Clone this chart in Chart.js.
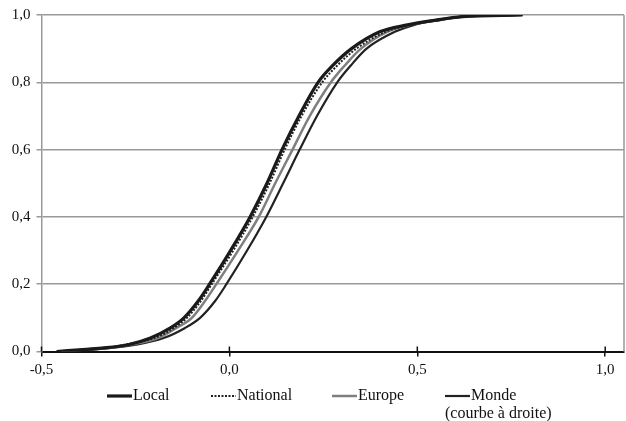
<!DOCTYPE html>
<html>
<head>
<meta charset="utf-8">
<script src="https://cdn.jsdelivr.net/npm/chart.js@4.4.1/dist/chart.umd.min.js"></script>
<style>
  html, body { margin: 0; padding: 0; background: #fff; }
</style>
</head>
<body>
<canvas id="chart_cdf" width="626" height="421"></canvas>
<script>
// cumulative share (y) and the x value reached by each curve
const probs    = [0, 0.005, 0.01, 0.02, 0.04, 0.07, 0.1, 0.15, 0.2, 0.3, 0.4, 0.5, 0.6, 0.7, 0.8, 0.85, 0.9, 0.95, 0.97, 0.985, 0.995, 1.0];
const local    = [-0.46, -0.40, -0.34, -0.27, -0.21, -0.157, -0.121, -0.083, -0.053, 0.003, 0.055, 0.10, 0.14, 0.185, 0.236, 0.275, 0.325, 0.40, 0.47, 0.55, 0.62, 0.78];
const national = [-0.45, -0.38, -0.33, -0.28, -0.20, -0.147, -0.113, -0.076, -0.047, 0.01, 0.062, 0.107, 0.147, 0.192, 0.247, 0.287, 0.338, 0.415, 0.48, 0.55, 0.62, 0.76];
const europe   = [-0.45, -0.39, -0.33, -0.265, -0.19, -0.141, -0.10, -0.065, -0.035, 0.023, 0.078, 0.122, 0.168, 0.214, 0.27, 0.307, 0.35, 0.42, 0.48, 0.55, 0.62, 0.76];
const monde    = [-0.44, -0.37, -0.32, -0.25, -0.175, -0.118, -0.078, -0.038, -0.008, 0.047, 0.098, 0.143, 0.187, 0.233, 0.287, 0.323, 0.365, 0.44, 0.49, 0.56, 0.62, 0.78];

const xTicks = [-0.5, 0, 0.5, 1.0];
const yTicks = [0, 0.2, 0.4, 0.6, 0.8, 1.0];

const FONT = "'Liberation Serif', 'Times New Roman', serif";
const fmt = v => Number(v).toFixed(1).replace(".", ",");
const pts = xs => probs.map((p, i) => ({ x: xs[i], y: p }));

const data = {
    datasets: [
        { label: ["Local"], data: pts(local), borderColor: "#1a1a1a", borderWidth: 3.2 },
        { label: ["National"], data: pts(national), borderColor: "#222", borderWidth: 2, borderDash: [2, 1.5] },
        { label: ["Europe"], data: pts(europe), borderColor: "#7f7f7f", borderWidth: 2.5 },
        { label: ["Monde", "(courbe à droite)"], data: pts(monde), borderColor: "#222", borderWidth: 2.2 },
    ],
};

// right border, inner x ticks and the legend under the axis
const extras = {
    id: "extras",
    afterDraw(chart) {
        const ctx = chart.ctx;
        const a = chart.chartArea;
        const xs = chart.scales.x;
        ctx.save();
        ctx.strokeStyle = "#999";
        ctx.lineWidth = 1.5;
        ctx.beginPath();
        ctx.moveTo(a.right, a.top);
        ctx.lineTo(a.right, a.bottom);
        ctx.stroke();

        ctx.strokeStyle = "#111";
        ctx.lineWidth = 1.5;
        xTicks.forEach(v => {
            const px = xs.getPixelForValue(v);
            ctx.beginPath();
            ctx.moveTo(px, a.bottom - 5);
            ctx.lineTo(px, a.bottom);
            ctx.stroke();
        });

        const slots = [107, 211, 332, 445];
        const rowY = 396;
        ctx.font = "16px " + FONT;
        ctx.fillStyle = "#111";
        ctx.textBaseline = "middle";
        chart.data.datasets.forEach((ds, i) => {
            const x0 = slots[i];
            ctx.strokeStyle = ds.borderColor;
            ctx.lineWidth = ds.borderWidth;
            ctx.setLineDash(ds.borderDash || []);
            ctx.beginPath();
            ctx.moveTo(x0, rowY);
            ctx.lineTo(x0 + 25, rowY);
            ctx.stroke();
            ctx.setLineDash([]);
            ctx.fillText(ds.label[0], x0 + 26, rowY);
            if (ds.label[1]) ctx.fillText(ds.label[1], x0, rowY + 18);
        });
        ctx.restore();
    },
};

const config = {
    type: "scatter",
    data: data,
    options: {
        responsive: false,
        animation: false,
        showLine: true,
        elements: {
            point: { radius: 0, hoverRadius: 0 },
            line: { cubicInterpolationMode: "monotone", fill: false },
        },
        layout: { padding: { top: 15, right: 2, bottom: 39.5, left: 0 } },
        plugins: { legend: { display: false }, tooltip: { enabled: false } },
        scales: {
            x: {
                type: "linear",
                min: -0.5,
                max: 1.05,
                afterBuildTicks: s => { s.ticks = xTicks.map(v => ({ value: v })); },
                afterFit: s => { s.height = 30; },
                ticks: { callback: fmt, color: "#111", font: { family: FONT, size: 15 }, padding: 5, maxRotation: 0 },
                grid: { drawOnChartArea: false, color: "#111", lineWidth: 1.5, tickLength: 5 },
                border: { color: "#111", width: 2 },
            },
            y: {
                type: "linear",
                min: 0,
                max: 1,
                afterBuildTicks: s => { s.ticks = yTicks.map(v => ({ value: v })); },
                afterFit: s => { s.width = 41.5; },
                ticks: { callback: fmt, color: "#111", font: { family: FONT, size: 15 }, padding: 6 },
                grid: { color: "#999", lineWidth: 1.5, tickLength: 5 },
                border: { color: "#999", width: 1.5 },
            },
        },
    },
    plugins: [extras],
};

const ctxCdf = document.getElementById("chart_cdf");
const cdfChart = new Chart(ctxCdf, config);
</script>
</body>
</html>
